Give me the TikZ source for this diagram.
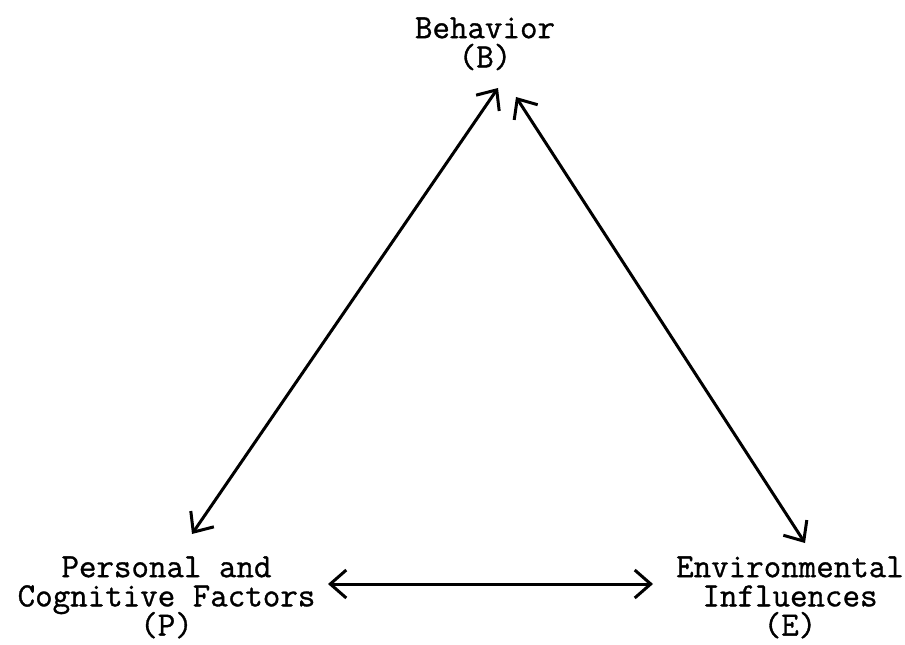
\documentclass[tikz,border=0pt]{standalone}
\usepackage{fontspec}
\newfontfamily\typer{Latin Modern Mono}[BoldFont={Latin Modern Mono},BoldFeatures={FakeBold=1}]
\usetikzlibrary{arrows.meta,positioning}

\tikzset{
  factor/.style={font={\typer\bfseries\fontsize{17}{14.6}\selectfont\lineskiplimit=-20pt},
    align=center, inner sep=0pt, anchor=north},
  recip/.style={{Straight Barb[length=8pt,width=14pt]}-{Straight Barb[length=8pt,width=14pt]},
    line width=1.5pt, line cap=round, line join=round},
}

\begin{document}
\begin{tikzpicture}[x=1pt,y=1pt]
  \useasboundingbox (0,0) rectangle (452.5,322);

  \node[factor] (B) at (242.5,313.5) {Behavior\\(B)};
  \node[factor] (P) at (83.25,44) {Personal and\\Cognitive Factors\\(P)};
  \node[factor] (E) at (395,44) {Environmental\\Influences\\(E)};

  % arrow ends
  \coordinate (B-p) at (249,278);
  \coordinate (B-e) at (258,273.5);
  \coordinate (P-b) at (96,55);
  \coordinate (E-b) at (402.5,50.5);
  \coordinate (P-e) at (164,30);
  \coordinate (E-p) at (326.5,30);

  \draw[recip] (P-b) -- (B-p);
  \draw[recip] (B-e) -- (E-b);
  \draw[recip] (P-e) -- (E-p);
\end{tikzpicture}
\end{document}
